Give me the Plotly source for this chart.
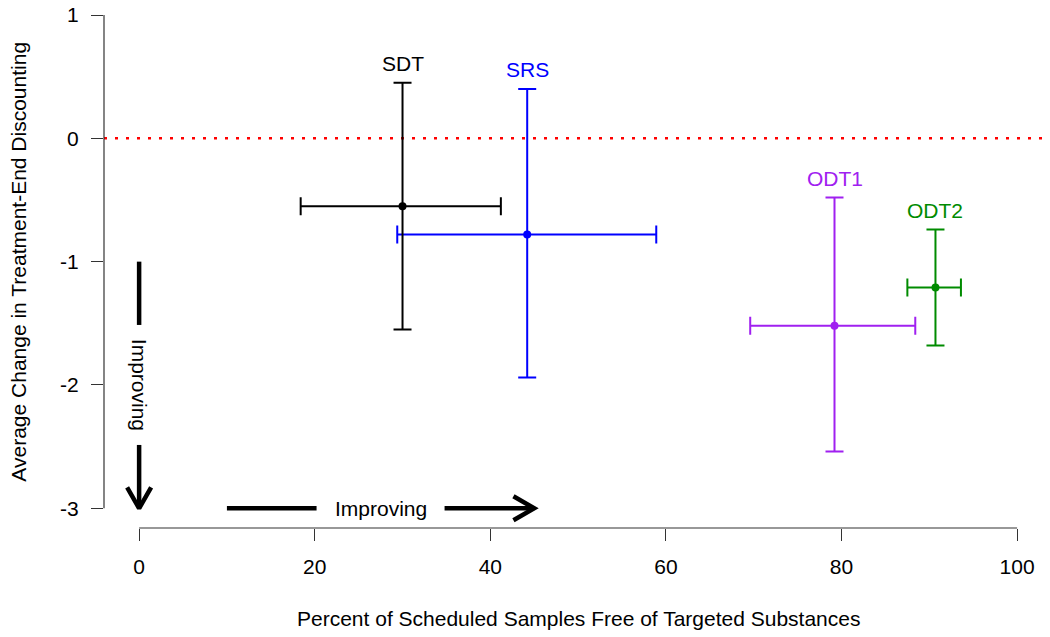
import math
import plotly.graph_objects as go

# ---- data ----
groups = ["SDT", "SRS", "ODT1", "ODT2"]
x_mean = [30.0, 44.2, 79.2, 90.7]
x_low = [18.4, 29.4, 69.6, 87.5]
x_high = [41.2, 58.9, 88.4, 93.6]
y_mean = [-0.55, -0.78, -1.52, -1.21]
y_low = [-1.55, -1.94, -2.54, -1.68]
y_high = [0.45, 0.40, -0.48, -0.74]
colors = ["black", "#0000FF", "#A020F0", "#008B00"]

x_ticks = [0, 20, 40, 60, 80, 100]
x_tick_labels = ["0", "20", "40", "60", "80", "100"]
y_ticks = [-3, -2, -1, 0, 1]
y_tick_labels = ["-3", "-2", "-1", "0", "1"]

# "Improving" arrows
arrow_x0 = [0, 10]
arrow_y0 = [-1, -3]
arrow_x1 = [0, 45]
arrow_y1 = [-3, -3]
arrow_label = ["Improving", "Improving"]
arrow_gap_px = [60, 64]      # half-gap in the shaft around the label

# ---- layout geometry (page has an 8px body margin) ----
W, H = 1042, 629
ML, MR, MT, MB = 96, 0, 0, 109
x_range = [-4, -4 + (W - ML - MR) / 8.78]
y_range = [-3.16, (138.25 - 8) / 123.25]
px_x = (W - ML - MR) / (x_range[1] - x_range[0])
px_y = (H - MT - MB) / (y_range[1] - y_range[0])

FONT = "Liberation Sans, Arial, sans-serif"
FS = 21
AX = "#333333"

fig = go.Figure()

order = [1, 0, 2, 3]
for i in order:
    fig.add_trace(go.Scatter(
        x=[x_mean[i]], y=[y_mean[i]], mode="markers",
        marker=dict(color=colors[i], size=8),
        error_x=dict(type="data", symmetric=False,
                     array=[x_high[i] - x_mean[i]],
                     arrayminus=[x_mean[i] - x_low[i]],
                     color=colors[i], thickness=2, width=9),
        error_y=dict(type="data", symmetric=False,
                     array=[y_high[i] - y_mean[i]],
                     arrayminus=[y_mean[i] - y_low[i]],
                     color=colors[i], thickness=2, width=9),
        showlegend=False, hoverinfo="skip"))

annotations = []
for i in range(len(groups)):
    annotations.append(dict(
        x=x_mean[i], y=y_high[i], xref="x", yref="y", text=groups[i],
        showarrow=False, yanchor="middle", yshift=19,
        font=dict(family=FONT, size=FS, color=colors[i])))

# arrows drawn as lines with a gap for the label, plus open heads
for k in range(len(arrow_x0)):
    x0, y0, x1, y1 = arrow_x0[k], arrow_y0[k], arrow_x1[k], arrow_y1[k]
    dxp = (x1 - x0) * px_x
    dyp = (y1 - y0) * px_y
    L = math.hypot(dxp, dyp)
    ux, uy = dxp / L, dyp / L
    mx, my = (x0 + x1) / 2, (y0 + y1) / 2
    g = arrow_gap_px[k]
    ga_x, ga_y = mx - ux * g / px_x, my - uy * g / px_y
    gb_x, gb_y = mx + ux * g / px_x, my + uy * g / px_y
    hl, ang = 24, math.radians(30)
    wings = []
    for s in (1, -1):
        c, sn = math.cos(ang), s * math.sin(ang)
        vx = -(ux * c - uy * sn)
        vy = -(ux * sn + uy * c)
        wings.append((x1 + vx * hl / px_x, y1 + vy * hl / px_y))
    xs = [x0, ga_x, None, gb_x, x1, None, wings[0][0], x1, wings[1][0]]
    ys = [y0, ga_y, None, gb_y, y1, None, wings[0][1], y1, wings[1][1]]
    fig.add_trace(go.Scatter(x=xs, y=ys, mode="lines",
                             line=dict(color="black", width=4.5),
                             showlegend=False, hoverinfo="skip"))
    annotations.append(dict(
        x=mx, y=my, xref="x", yref="y", text=arrow_label[k], showarrow=False,
        textangle=90 if x0 == x1 else 0,
        font=dict(family=FONT, size=FS, color="black")))

# axis titles
annotations.append(dict(
    x=50, y=0, xref="x", yref="paper", yanchor="middle", yshift=-90,
    text="Percent of Scheduled Samples Free of Targeted Substances",
    showarrow=False, font=dict(family=FONT, size=FS, color="black")))
annotations.append(dict(
    x=0, y=-1, xref="paper", yref="y", xanchor="center", xshift=-85,
    text="Average Change in Treatment-End Discounting", textangle=-90,
    showarrow=False, font=dict(family=FONT, size=FS, color="black")))

shapes = [
    dict(type="line", xref="paper", yref="y", x0=0, x1=1, y0=0, y1=0,
         line=dict(color="red", width=2.5, dash="3px,8px"), layer="below"),
    dict(type="line", xref="x", yref="paper", x0=x_ticks[0], x1=x_ticks[-1],
         y0=0, y1=0, line=dict(color=AX, width=1.2)),
    dict(type="line", xref="paper", yref="y", x0=0, x1=0,
         y0=y_ticks[0], y1=y_ticks[-1], line=dict(color=AX, width=1.2)),
]

tickfont = dict(family=FONT, size=FS, color="black")
fig.update_layout(
    width=W, height=H,
    margin=dict(l=ML, r=MR, t=MT, b=MB, autoexpand=False),
    paper_bgcolor="white", plot_bgcolor="white",
    font=dict(family=FONT, size=FS, color="black"),
    xaxis=dict(range=x_range, tickvals=x_ticks, ticktext=x_tick_labels,
               ticks="outside", ticklen=12, automargin=False,
               ticklabelstandoff=8, ticklabeloverflow="allow",
               tickwidth=1.2, tickcolor=AX, showgrid=False, zeroline=False,
               showline=False, tickfont=tickfont),
    yaxis=dict(range=y_range, tickvals=y_ticks, ticktext=y_tick_labels,
               ticks="outside", ticklen=12, automargin=False,
               ticklabelstandoff=8, ticklabeloverflow="allow",
               tickwidth=1.2, tickcolor=AX, showgrid=False, zeroline=False,
               showline=False, tickfont=tickfont),
    annotations=annotations, shapes=shapes,
)

fig.write_html("out.html")
